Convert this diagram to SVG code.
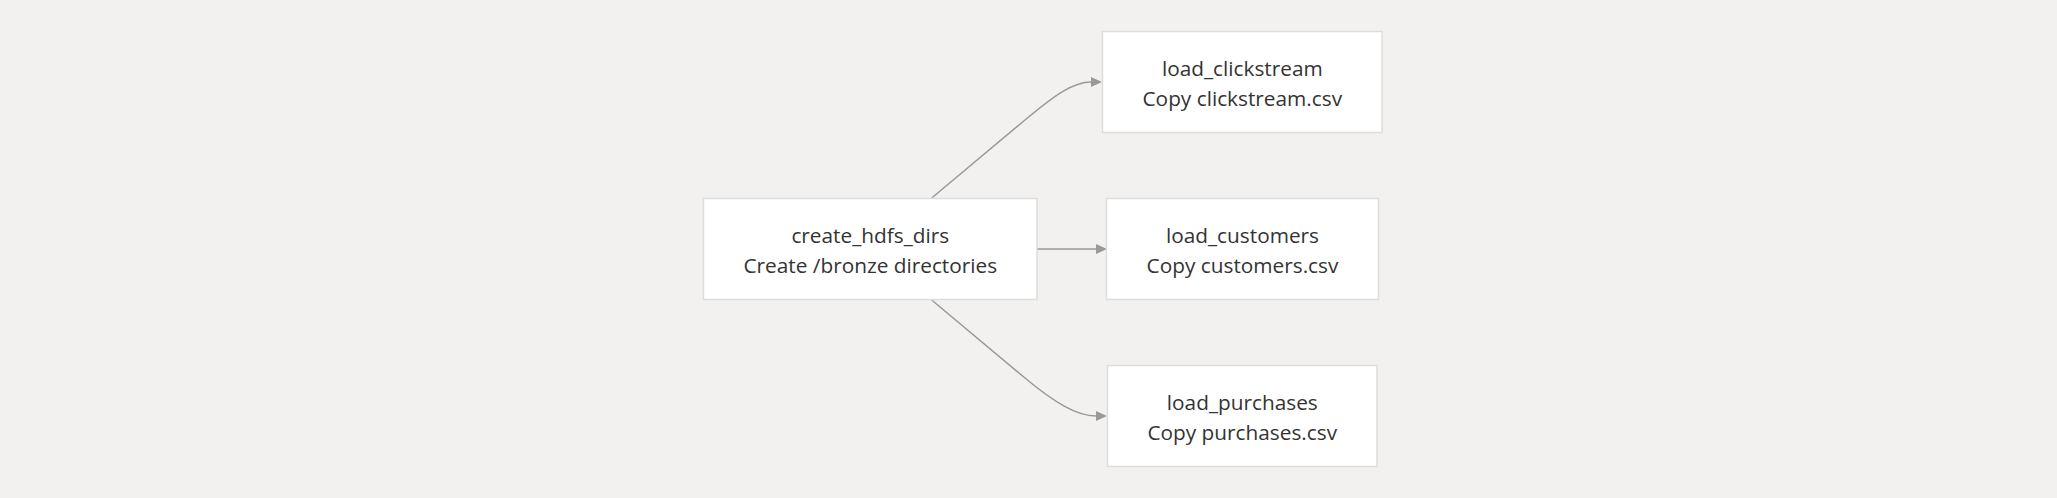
<svg xmlns="http://www.w3.org/2000/svg" width="2057" height="498" viewBox="0 0 2057 498">
<style>
.node rect{fill:#ffffff;stroke:#dddddd;stroke-width:1.5}
.node text{font-family:"Open Sans","Noto Sans",sans-serif;font-size:20.8px;fill:#333333;text-anchor:middle}
.edge{fill:none;stroke:#999999;stroke-width:1.5}
</style>
<defs>
<marker id="arrow" markerUnits="userSpaceOnUse" markerWidth="12" markerHeight="12" refX="0" refY="5" orient="auto">
<path d="M0,0 L11,5 L0,10 z" fill="#999999"/>
</marker>
</defs>
<rect width="2057" height="498" fill="#f2f1ef"/>
<g id="connectors">
<path class="edge" d="M931.7,198 L1025,120 C1055,95 1073,82 1091,82" marker-end="url(#arrow)"/>
<path class="edge" d="M1037,249 L1096,249" marker-end="url(#arrow)"/>
<path class="edge" d="M931.7,300 L1025,378 C1055,403 1077,416 1096,416" marker-end="url(#arrow)"/>
</g>
<g id="create_hdfs_dirs" class="node">
<rect x="703.5" y="198.5" width="333.5" height="101"/>
<text x="870.3" y="243">create_hdfs_dirs</text>
<text x="870.3" y="273">Create /bronze directories</text>
</g>
<g id="load_clickstream" class="node">
<rect x="1102.5" y="31.5" width="279.5" height="101"/>
<text x="1242.3" y="76">load_clickstream</text>
<text x="1242.3" y="106">Copy clickstream.csv</text>
</g>
<g id="load_customers" class="node">
<rect x="1106.5" y="198.5" width="272" height="101"/>
<text x="1242.5" y="243">load_customers</text>
<text x="1242.5" y="273">Copy customers.csv</text>
</g>
<g id="load_purchases" class="node">
<rect x="1107.5" y="365.5" width="269.5" height="101"/>
<text x="1242.3" y="410">load_purchases</text>
<text x="1242.3" y="440">Copy purchases.csv</text>
</g>
</svg>
